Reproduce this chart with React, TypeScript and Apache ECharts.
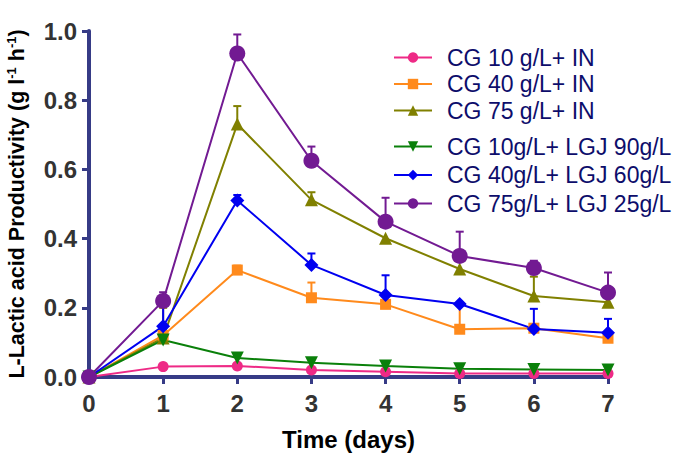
import React, { useEffect, useRef } from "react";
import * as echarts from "echarts";

const days = [0, 1, 2, 3, 4, 5, 6, 7];
const seriesNames = [
  "CG 10 g/L+ IN",
  "CG 40 g/L+ IN",
  "CG 75 g/L+ IN",
  "CG 10g/L+ LGJ 90g/L",
  "CG 40g/L+ LGJ 60g/L",
  "CG 75g/L+ LGJ 25g/L",
];
const cg10In = [0, 0.03, 0.032, 0.02, 0.015, 0.01, 0.01, 0.01];
const cg40In = [0, 0.12, 0.309, 0.229, 0.21, 0.138, 0.141, 0.112];
const cg75In = [0, 0.113, 0.731, 0.512, 0.401, 0.312, 0.234, 0.216];
const cg10Lgj = [0, 0.107, 0.055, 0.041, 0.032, 0.024, 0.022, 0.02];
const cg40Lgj = [0, 0.147, 0.51, 0.324, 0.237, 0.211, 0.139, 0.128];
const cg75Lgj = [0, 0.22, 0.935, 0.625, 0.449, 0.35, 0.315, 0.244];
// upper error bar ends (null = no bar)
const cg10InErr = [null, null, null, null, null, null, null, null];
const cg40InErr = [null, null, 0.322, 0.273, null, 0.208, null, null];
const cg75InErr = [null, 0.2, 0.783, 0.534, null, null, 0.29, null];
const cg10LgjErr = [null, null, null, null, null, null, null, null];
const cg40LgjErr = [null, 0.208, 0.526, 0.357, 0.294, null, 0.197, 0.168];
const cg75LgjErr = [null, 0.245, 0.99, 0.666, 0.518, 0.42, 0.336, 0.302];
const yTicks = [0, 0.2, 0.4, 0.6, 0.8, 1.0];

const colors = ["#ee2a86", "#ff8a1c", "#808000", "#0a800a", "#0000f0", "#721a92"];
const symbols = ["circle", "rect", "triangle", "triangle", "diamond", "circle"];
const symbolSizes = [11, 11, 13, 13, 14, 16];
const rotations = [0, 0, 0, 180, 0, 0];
const values = [cg10In, cg40In, cg75In, cg10Lgj, cg40Lgj, cg75Lgj];
const errs = [cg10InErr, cg40InErr, cg75InErr, cg10LgjErr, cg40LgjErr, cg75LgjErr];

export default function App() {
  const ref = useRef<HTMLDivElement>(null);
  useEffect(() => {
    if (!ref.current) return;
    const chart = echarts.init(ref.current, undefined, { renderer: "svg" });
    const axisColor = "#363b86";
    const lineSeries = values.map((vals, i) => ({
      type: "line",
      name: seriesNames[i],
      data: days.map((d, j) => [d, vals[j]]),
      symbol: symbols[i],
      symbolSize: symbolSizes[i],
      symbolRotate: rotations[i],
      itemStyle: { color: colors[i] },
      lineStyle: { color: colors[i], width: 2 },
      z: 3,
    }));
    const errSeries = errs.map((e, i) => ({
      type: "custom",
      name: "err" + i,
      data: days
        .map((d, j) => (e[j] == null ? null : [d, values[i][j], e[j]]))
        .filter((x) => x !== null),
      renderItem: (params: any, api: any) => {
        const p0 = api.coord([api.value(0), api.value(1)]);
        const p1 = api.coord([api.value(0), api.value(2)]);
        return {
          type: "group",
          children: [
            {
              type: "line",
              shape: { x1: p0[0], y1: p0[1], x2: p1[0], y2: p1[1] },
              style: { stroke: colors[i], lineWidth: 2 },
            },
            {
              type: "line",
              shape: { x1: p1[0] - 4, y1: p1[1], x2: p1[0] + 4, y2: p1[1] },
              style: { stroke: colors[i], lineWidth: 2 },
            },
          ],
        };
      },
      z: 2,
    }));
    const legendCommon = {
      orient: "vertical",
      left: 388,
      itemWidth: 38,
      itemHeight: 13,
      textStyle: {
        fontFamily: "Liberation Sans, Arial, sans-serif",
        fontSize: 23,
        color: "#0d0d6b",
        lineHeight: 22,
        padding: [0, 0, 0, 10],
      },
    };
    chart.setOption({
      animation: false,
      backgroundColor: "#ffffff",
      grid: {
        left: 89,
        right: 77,
        top: 31,
        bottom: 76,
        containLabel: false,
        outerBoundsMode: "none",
      },
      legend: [
        { ...legendCommon, top: 41, itemGap: 3.5, data: seriesNames.slice(0, 3) },
        { ...legendCommon, top: 130, itemGap: 5.5, data: seriesNames.slice(3) },
      ],
      xAxis: {
        type: "value",
        min: 0,
        max: 7,
        interval: 1,
        name: "Time (days)",
        nameLocation: "middle",
        nameGap: 50,
        nameTextStyle: {
          fontFamily: "Liberation Sans, Arial, sans-serif",
          fontSize: 24,
          fontWeight: "bold",
          color: "#000",
        },
        axisLine: { show: true, lineStyle: { color: axisColor, width: 4 } },
        axisTick: { show: true, inside: false, length: 7, lineStyle: { color: axisColor, width: 3 } },
        axisLabel: {
          margin: 14,
          fontFamily: "Liberation Sans, Arial, sans-serif",
          fontSize: 24,
          fontWeight: "bold",
          color: "#333333",
        },
        splitLine: { show: false },
      },
      yAxis: {
        type: "value",
        min: yTicks[0],
        max: yTicks[yTicks.length - 1],
        interval: 0.2,
        name: "{a|L-Lactic acid Productivity (g l}{s|-1}{a| h}{s|-1}{a|)}",
        nameLocation: "middle",
        nameGap: 60,
        nameRotate: 90,
        nameTextStyle: {
          rich: {
            a: {
              fontFamily: "Liberation Sans, Arial, sans-serif",
              fontSize: 21.5,
              fontWeight: "bold",
              color: "#000",
              lineHeight: 24,
            },
            s: {
              fontFamily: "Liberation Sans, Arial, sans-serif",
              fontSize: 13,
              fontWeight: "bold",
              color: "#000",
              verticalAlign: "top",
              lineHeight: 24,
            },
          },
        },
        axisLine: { show: true, lineStyle: { color: axisColor, width: 4 } },
        axisTick: { show: true, inside: false, length: 7, lineStyle: { color: axisColor, width: 3 } },
        axisLabel: {
          margin: 12,
          fontFamily: "Liberation Sans, Arial, sans-serif",
          fontSize: 24,
          fontWeight: "bold",
          color: "#333333",
          formatter: (v: number) => v.toFixed(1),
        },
        splitLine: { show: false },
      },
      series: [...errSeries, ...lineSeries],
    });
    return () => chart.dispose();
  }, []);
  return <div ref={ref} style={{ width: 685, height: 453, position: "absolute", left: 0, top: 0 }} />;
}
